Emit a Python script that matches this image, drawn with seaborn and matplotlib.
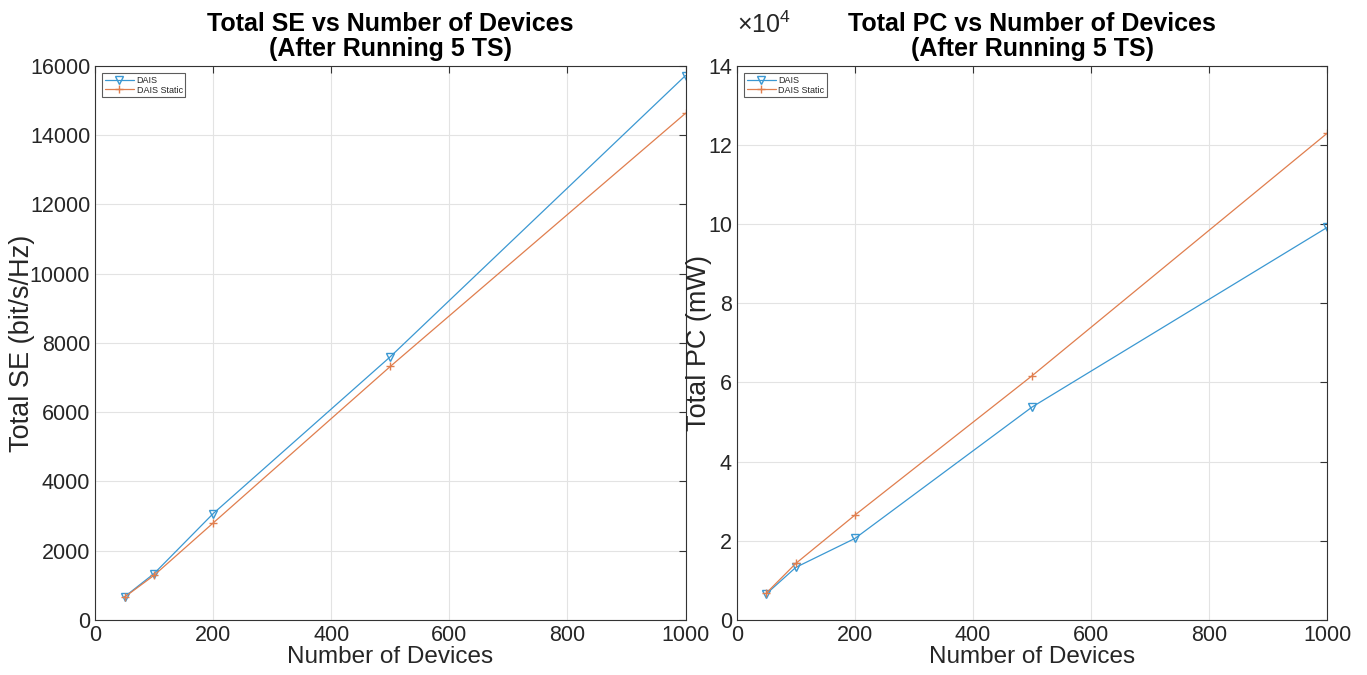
import matplotlib
matplotlib.use("Agg")
import matplotlib.pyplot as plt
import seaborn as sns

devices = [50, 100, 200, 500, 1000]
se_dais = [670, 1340, 3070, 7600, 15720]
se_static = [660, 1290, 2800, 7320, 14630]
pc_dais = [6600, 13300, 20600, 53800, 99200]
pc_static = [6800, 14300, 26500, 61700, 123000]
series_names = ["DAIS", "DAIS Static"]

sns.set_style("white")
plt.rcParams['font.family'] = ['Liberation Sans', 'DejaVu Sans']
plt.rcParams['mathtext.fontset'] = 'custom'
plt.rcParams['mathtext.rm'] = 'Liberation Sans'
plt.rcParams['mathtext.it'] = 'Liberation Sans'

blue = "#3b98d2"
orange = "#e07e4e"
txt = "#262626"

fig = plt.figure(figsize=(13.67, 6.75), dpi=100)
ax1 = fig.add_axes([0.0695, 0.0815, 0.432, 0.821])
ax2 = fig.add_axes([0.539, 0.0815, 0.432, 0.821])

def draw(ax, a, b, ylabel, title, ymax, yticks, ytlabels):
    sns.lineplot(x=devices, y=a, color=blue, marker="v", markerfacecolor="none",
                 markeredgecolor=blue, markeredgewidth=1, markersize=5.5,
                 linewidth=0.9, ax=ax, label=series_names[0])
    sns.lineplot(x=devices, y=b, color=orange, marker="+",
                 markeredgecolor=orange, markeredgewidth=1, markersize=6,
                 linewidth=0.9, ax=ax, label=series_names[1])
    ax.set_xlim(0, 1000)
    ax.set_ylim(0, ymax)
    ax.set_xticks([0, 200, 400, 600, 800, 1000])
    ax.set_yticks(yticks)
    ax.set_yticklabels(ytlabels)
    ax.grid(True, color="#e3e3e3", linewidth=0.8)
    ax.tick_params(direction="in", labelsize=15.5, length=5, color="#333333",
                   top=True, right=True, labelcolor=txt)
    for sp in ax.spines.values():
        sp.set_color("#333333")
        sp.set_linewidth(0.8)
    ax.set_xlabel("Number of Devices", fontsize=17.5, color=txt, labelpad=0)
    ax.set_ylabel(ylabel, fontsize=19.5, color=txt, labelpad=-4)
    ax.set_title(title, fontsize=18, fontweight="bold", pad=7, linespacing=1.05,
                 color="black")
    leg = ax.legend(loc="upper left", fontsize=6.5, frameon=True, fancybox=False,
                    edgecolor="#333333", borderpad=0.3, handlelength=3.2,
                    labelspacing=0.1, handletextpad=0.3, borderaxespad=0.8)
    leg.get_frame().set_linewidth(0.8)

se_ticks = list(range(0, 16001, 2000))
pc_ticks = list(range(0, 140001, 20000))
draw(ax1, se_dais, se_static, "Total SE (bit/s/Hz)",
     "Total SE vs Number of Devices\n(After Running 5 TS)", 16000,
     se_ticks, [str(t) for t in se_ticks])
draw(ax2, pc_dais, pc_static, "Total PC (mW)",
     "Total PC vs Number of Devices\n(After Running 5 TS)", 140000,
     pc_ticks, [str(t // 10000) for t in pc_ticks])
ax2.yaxis.set_label_coords(-0.042, 0.5)
ax2.text(0.0, 1.05, r"$\times10^{4}$", transform=ax2.transAxes,
         fontsize=18, color=txt, ha="left", va="bottom")

fig.savefig("out.png", dpi=100)
